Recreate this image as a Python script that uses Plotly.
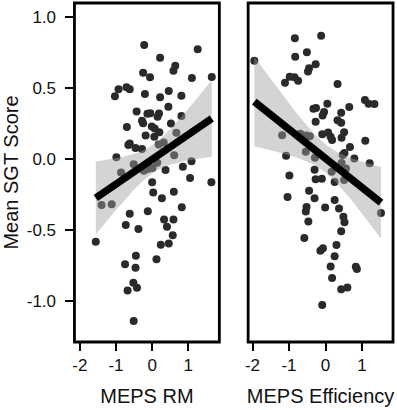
import numpy as np
import plotly.graph_objects as go

# Left panel: MEPS RM vs Mean SGT Score
rm_x = [-0.22, 1.26, 0.22, 0.64, 0.59, -0.25, -0.06, 1.10, 1.65, -0.71,
        -0.93, -0.62, 0.46, -0.20, -1.03, 0.22, 0.81, 0.45, -0.43, -0.13,
        -0.05, 0.19, 0.15, 0.81, -0.28, -0.25, 0.52, -0.01, -0.70, 0.07,
        0.20, 0.67, -0.18, 0.06, -0.62, -0.66, -0.46, -0.28, 0.18, 0.32,
        0.61, -0.99, 1.09, 0.85, -0.51, 0.14, 0.37, -0.12, 0.01, -0.86,
        -0.23, 1.05, 1.64, 0.00, 0.03, 0.60, 0.27, -1.40, -1.12, 0.82,
        -0.62, -0.12, 0.33, 0.59, -0.73, -0.38, 0.41, -1.56, 0.57, 0.24,
        0.46, -0.45, -0.75, 0.12, -0.46, -0.52, -0.42, -0.68, -0.51]
rm_y = [0.80, 0.77, 0.71, 0.655, 0.62, 0.605, 0.573, 0.568, 0.575, 0.503,
        0.489, 0.489, 0.477, 0.456, 0.439, 0.432, 0.444, 0.366, 0.332, 0.317,
        0.320, 0.318, 0.296, 0.301, 0.268, 0.249, 0.248, 0.227, 0.223, 0.213,
        0.186, 0.183, 0.163, 0.155, 0.107, 0.096, 0.075, 0.068, 0.100, 0.114,
        0.025, 0.010, -0.018, -0.057, -0.039, -0.029, -0.080, -0.073, -0.065, -0.097,
        -0.085, -0.135, -0.165, -0.165, -0.238, -0.233, -0.279, -0.325, -0.320, -0.342,
        -0.387, -0.370, -0.427, -0.428, -0.467, -0.495, -0.479, -0.585, -0.539, -0.606,
        -0.596, -0.683, -0.742, -0.708, -0.768, -0.873, -0.908, -0.927, -1.143]

# Right panel: MEPS Efficiency vs Mean SGT Score
eff_x = [-0.84, -0.12, -0.83, -0.51, -1.95, -0.27, -0.45, -0.48, -0.98, -0.85,
         -0.75, -1.11, 0.33, 1.08, 1.18, 1.34, -0.33, -0.26, 0.05, 0.65,
         0.43, -0.04, -0.08, -0.27, 0.33, 0.43, -1.19, -0.69, -0.53, -0.43,
         -0.09, 0.07, 0.14, 0.18, 0.51, 0.44, 1.09, 0.67, -1.08, -0.54,
         -0.29, 0.47, 0.52, 0.79, 1.21, 0.44, -0.30, 0.17, 0.56, -0.99,
         -0.27, -0.10, 0.25, 0.51, -0.45, -1.04, -0.30, 0.25, -0.52, -0.54,
         -0.01, 0.37, 0.49, 0.52, -0.47, 1.52, 0.43, -0.58, 0.30, -0.14,
         -0.07, 0.25, 0.14, 0.83, 0.86, 0.18, 0.43, 0.60, -0.09]
eff_y = [0.848, 0.866, 0.718, 0.749, 0.690, 0.665, 0.637, 0.613, 0.577, 0.573,
         0.549, 0.535, 0.526, 0.413, 0.387, 0.385, 0.351, 0.357, 0.387, 0.364,
         0.324, 0.329, 0.304, 0.261, 0.270, 0.254, 0.165, 0.176, 0.163, 0.158,
         0.172, 0.185, 0.155, 0.132, 0.187, 0.147, 0.126, 0.082, 0.021, 0.049,
         0.006, 0.026, 0.040, 0.001, -0.032, -0.030, -0.077, -0.092, -0.068, -0.118,
         -0.144, -0.141, -0.164, -0.150, -0.226, -0.270, -0.279, -0.291, -0.340, -0.372,
         -0.344, -0.351, -0.408, -0.448, -0.441, -0.382, -0.511, -0.558, -0.608, -0.648,
         -0.631, -0.687, -0.758, -0.761, -0.777, -0.840, -0.918, -0.906, -1.030]

x_ticks = [-2, -1, 0, 1]
y_ticks = [-1.0, -0.5, 0.0, 0.5, 1.0]
y_tick_labels = ["-1.0", "-0.5", "0.0", "0.5", "1.0"]
x_titles = ["MEPS RM", "MEPS Efficiency"]
y_title = "Mean SGT Score"

FONT = "Liberation Sans, Arial, sans-serif"


def fit_band(x, y, t=1.99, n_pts=60):
    x = np.asarray(x, float)
    y = np.asarray(y, float)
    n = len(x)
    b, a = np.polyfit(x, y, 1)
    resid = y - (a + b * x)
    s = np.sqrt(np.sum(resid ** 2) / (n - 2))
    xbar = x.mean()
    sxx = np.sum((x - xbar) ** 2)
    xs = np.linspace(x.min(), x.max(), n_pts)
    yh = a + b * xs
    se = s * np.sqrt(1.0 / n + (xs - xbar) ** 2 / sxx)
    return xs, yh, yh - t * se, yh + t * se


fig = go.Figure()
panels = [(rm_x, rm_y, "x", "y"), (eff_x, eff_y, "x2", "y2")]
for px_, py_, xa, ya in panels:
    fig.add_trace(go.Scatter(x=px_, y=py_, mode="markers", xaxis=xa, yaxis=ya,
                             marker=dict(size=8, color="#2a2a2a", line=dict(width=0)),
                             showlegend=False, hoverinfo="skip"))
    xs, yh, lo, hi = fit_band(px_, py_)
    fig.add_trace(go.Scatter(x=np.concatenate([xs, xs[::-1]]),
                             y=np.concatenate([hi, lo[::-1]]),
                             mode="lines", fill="toself", xaxis=xa, yaxis=ya,
                             fillcolor="rgba(160,160,160,0.45)",
                             line=dict(width=0), showlegend=False, hoverinfo="skip"))
    fig.add_trace(go.Scatter(x=xs, y=yh, mode="lines", xaxis=xa, yaxis=ya,
                             line=dict(color="black", width=7.5),
                             showlegend=False, hoverinfo="skip"))

# frames around each panel
for xa, ya in [("x", "y"), ("x2", "y2")]:
    fig.add_shape(type="rect", xref=f"{xa} domain", yref=f"{ya} domain",
                  x0=0, x1=1, y0=0, y1=1, line=dict(color="black", width=2.8),
                  fillcolor="rgba(0,0,0,0)", layer="above")

axis_common = dict(showline=False, showgrid=False, zeroline=False,
                   ticks="outside", ticklen=8, tickwidth=1.5, tickcolor="black",
                   tickfont=dict(family=FONT, size=17, color="#111"))

fig.update_layout(
    width=397, height=410,
    margin=dict(l=0, r=0, t=0, b=0),
    paper_bgcolor="white", plot_bgcolor="white",
    font=dict(family=FONT, color="#111"),
    xaxis=dict(domain=[72 / 397, 218 / 397], range=[-2.15, 1.86],
               tickvals=x_ticks, ticktext=[str(v) for v in x_ticks],
               title=dict(text=x_titles[0], font=dict(family=FONT, size=20), standoff=14),
               anchor="y", **axis_common),
    xaxis2=dict(domain=[247 / 397, 393 / 397], range=[-2.12, 1.85],
                tickvals=x_ticks, ticktext=[str(v) for v in x_ticks],
                title=dict(text=x_titles[1], font=dict(family=FONT, size=20), standoff=14),
                anchor="y2", **axis_common),
    yaxis=dict(domain=[68 / 410, 407 / 410], range=[-1.29, 1.096],
               tickvals=y_ticks, ticktext=y_tick_labels, ticklabelstandoff=6,
               title=dict(text=y_title, font=dict(family=FONT, size=20), standoff=6),
               anchor="x", **axis_common),
    yaxis2=dict(domain=[68 / 410, 407 / 410], range=[-1.29, 1.096],
                anchor="x2", showticklabels=False,
                **{**axis_common, "ticks": ""}),
)

fig.write_html("out.html", config={"displayModeBar": False},
               post_script="document.body.style.margin='0';document.body.style.padding='0';")
